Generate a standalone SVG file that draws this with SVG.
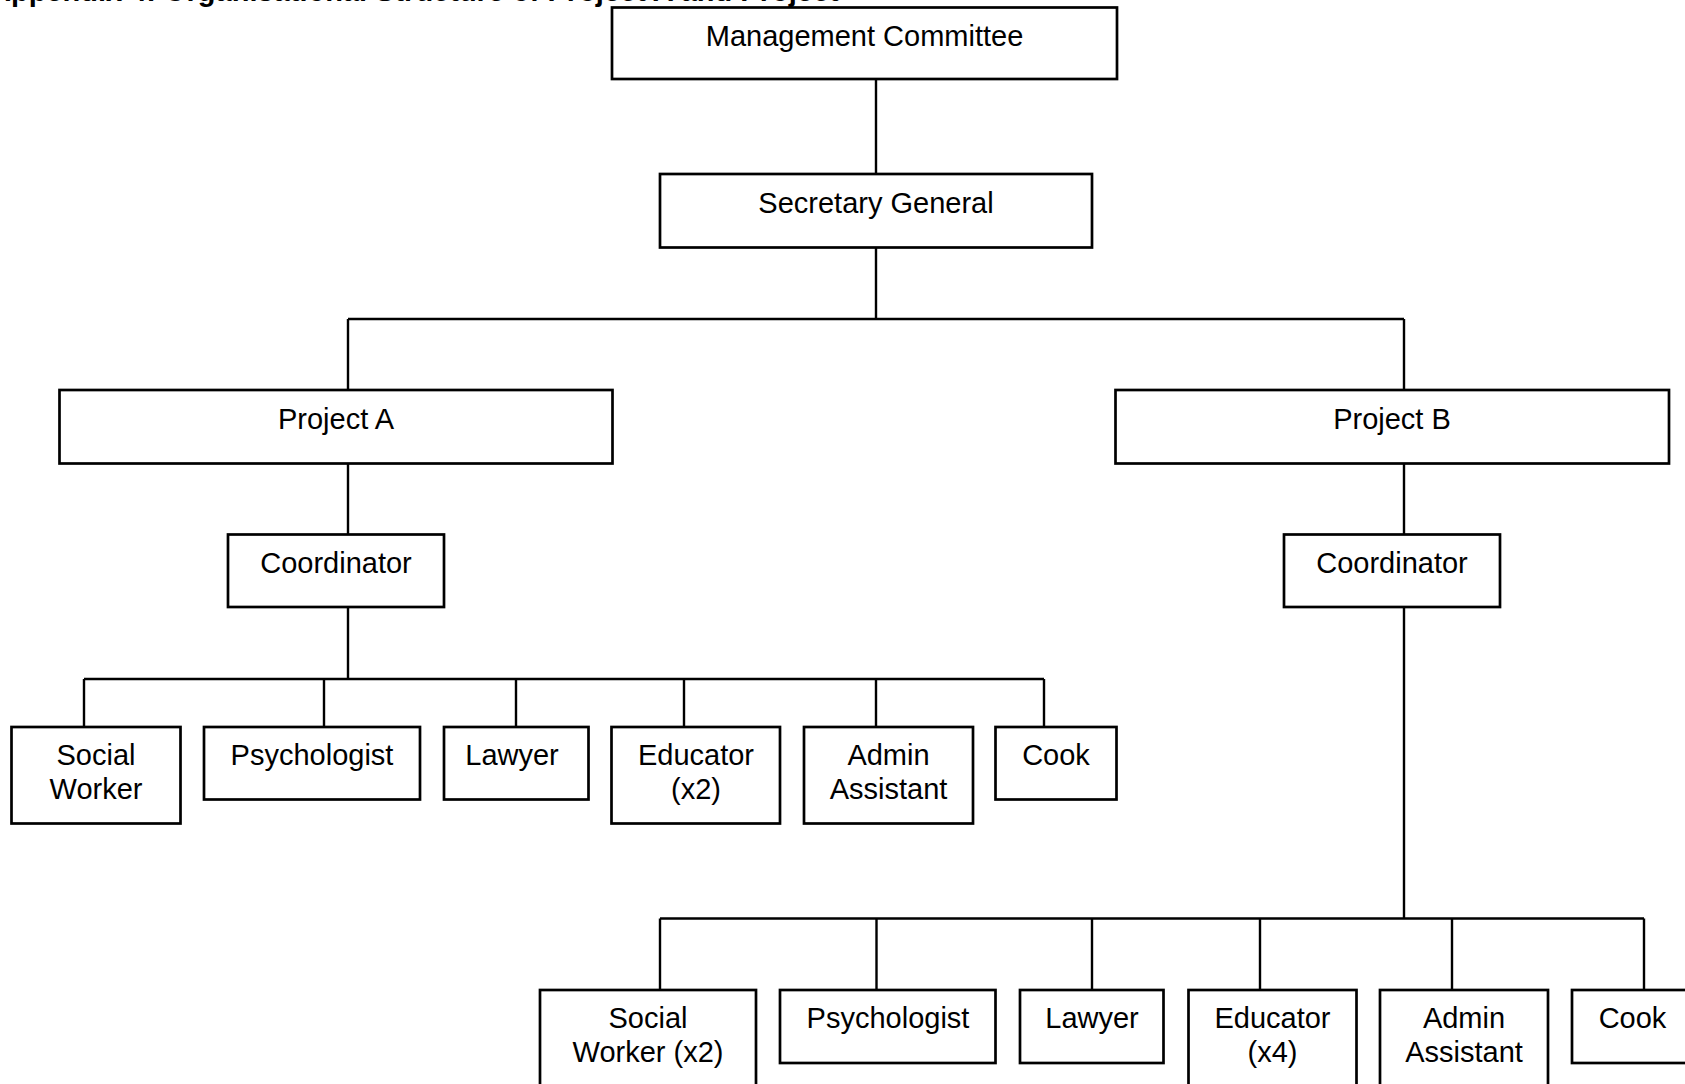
<svg xmlns="http://www.w3.org/2000/svg" width="1685" height="1084" viewBox="0 0 1685 1084">
<style>
.box{fill:#fff;stroke:#000;stroke-width:2.7}
.ln{fill:none;stroke:#000;stroke-width:2.4}
text{font-family:"Liberation Sans",Arial,sans-serif;font-size:29px;fill:#000;text-anchor:middle}
.title{font-weight:bold;text-anchor:start}
</style>
<rect width="1685" height="1084" fill="#fff"/>
<text class="title" x="-10" y="0.5">Appendix 4: Organisational Structure of Project A and Project</text>
<g id="connectors">
<path class="ln" d="M876 79V174M876 247.5V319M348 319H1404M348 319V390M1404 319V390"/>
<path class="ln" d="M348 463.5V534.5M348 607V679M84 679H1044M84 679V727M324 679V727M516 679V727M684 679V727M876 679V727M1044 679V727"/>
<path class="ln" d="M1404 463.5V534.5M1404 607V918.5M660 918.5H1644M660 918.5V990M876.5 918.5V990M1092 918.5V990M1260 918.5V990M1452 918.5V990M1644 918.5V990"/>
</g>
<g id="management-committee"><rect class="box" x="612" y="7.5" width="505" height="71.5"/><text x="864.5" y="46">Management Committee</text></g>
<g id="secretary-general"><rect class="box" x="660" y="174" width="432" height="73.5"/><text x="876" y="213">Secretary General</text></g>
<g id="project-a"><rect class="box" x="59.5" y="390" width="553" height="73.5"/><text x="336" y="429">Project A</text></g>
<g id="project-b"><rect class="box" x="1115.5" y="390" width="553.5" height="73.5"/><text x="1392" y="429">Project B</text></g>
<g id="coordinator-a"><rect class="box" x="228" y="534.5" width="216" height="72.5"/><text x="336" y="573">Coordinator</text></g>
<g id="coordinator-b"><rect class="box" x="1284" y="534.5" width="216" height="72.5"/><text x="1392" y="573">Coordinator</text></g>
<g id="a-social-worker"><rect class="box" x="11.5" y="727" width="169" height="96.5"/><text x="96" y="764.5">Social</text><text x="96" y="798.5">Worker</text></g>
<g id="a-psychologist"><rect class="box" x="204" y="727" width="216" height="72.5"/><text x="312" y="764.5">Psychologist</text></g>
<g id="a-lawyer"><rect class="box" x="444" y="727" width="144.5" height="72.5"/><text x="512" y="764.5">Lawyer</text></g>
<g id="a-educator"><rect class="box" x="611.5" y="727" width="168.5" height="96.5"/><text x="696" y="764.5">Educator</text><text x="696" y="798.5">(x2)</text></g>
<g id="a-admin"><rect class="box" x="804" y="727" width="169" height="96.5"/><text x="888.5" y="764.5">Admin</text><text x="888.5" y="798.5">Assistant</text></g>
<g id="a-cook"><rect class="box" x="995.5" y="727" width="121" height="72.5"/><text x="1056" y="764.5">Cook</text></g>
<g id="b-social-worker"><rect class="box" x="540" y="990" width="216" height="110"/><text x="648" y="1028">Social</text><text x="648" y="1062">Worker (x2)</text></g>
<g id="b-psychologist"><rect class="box" x="780" y="990" width="215.5" height="73"/><text x="888" y="1028">Psychologist</text></g>
<g id="b-lawyer"><rect class="box" x="1020" y="990" width="143.5" height="73"/><text x="1092" y="1028">Lawyer</text></g>
<g id="b-educator"><rect class="box" x="1188.5" y="990" width="168" height="110"/><text x="1272.5" y="1028">Educator</text><text x="1272.5" y="1062">(x4)</text></g>
<g id="b-admin"><rect class="box" x="1380" y="990" width="168" height="110"/><text x="1464" y="1028">Admin</text><text x="1464" y="1062">Assistant</text></g>
<g id="b-cook"><rect class="box" x="1572" y="990" width="121" height="73"/><text x="1632.5" y="1028">Cook</text></g>
</svg>
